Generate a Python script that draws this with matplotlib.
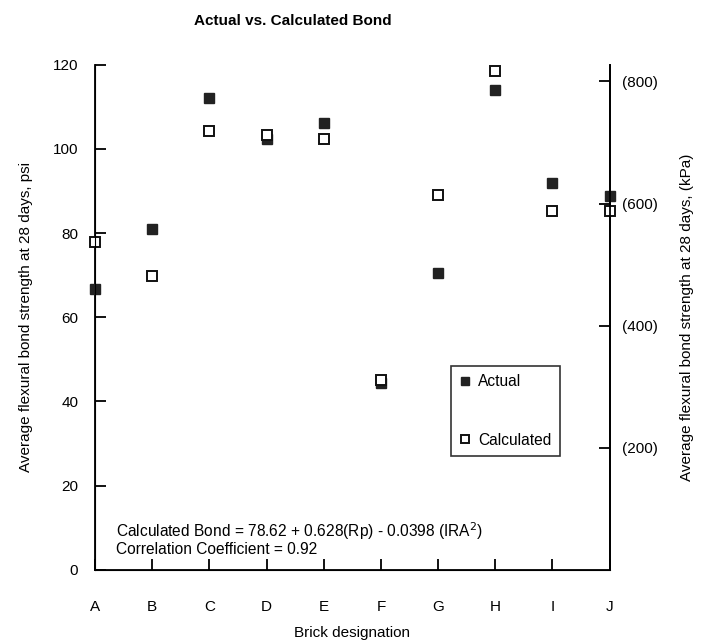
import numpy as np
import matplotlib
matplotlib.use('Agg')
import matplotlib.pyplot as plt

plt.rcParams['font.family'] = ['Liberation Sans', 'DejaVu Sans']

bricks = ['A', 'B', 'C', 'D', 'E', 'F', 'G', 'H', 'I', 'J']
actual = [66.7, 81.0, 112.0, 102.4, 106.1, 44.3, 70.5, 114.0, 91.8, 88.7]
calculated = [78.0, 69.8, 104.3, 103.3, 102.3, 45.2, 89.0, 118.5, 85.3, 85.3]
psi_ticks = [0, 20, 40, 60, 80, 100, 120]
kpa_ticks = [200, 400, 600, 800]
PSI_TO_KPA = 6.895

fig = plt.figure(figsize=(7.04, 6.41), dpi=100)
ax = fig.add_axes([0.135, 0.111, 0.731, 0.788])
x = np.arange(len(bricks))

ax.plot(x, actual, 's', ms=7, color='#222222', mec='#222222', label='Actual', clip_on=False, zorder=5)
ax.plot(x, calculated, 's', ms=7, mfc='white', mec='#111111', mew=1.4, label='Calculated', clip_on=False, zorder=5)

ax.set_xlim(0, 9)
ax.set_ylim(0, 120)
ax.set_xticks(x)
ax.set_xticklabels(bricks)
ax.set_yticks(psi_ticks)
ax.spines['top'].set_visible(False)
for s in ['left', 'bottom', 'right']:
    ax.spines[s].set_linewidth(1.3)
ax.tick_params(axis='x', direction='in', length=8, width=1.3, pad=22, labelsize=11)
ax.tick_params(axis='y', direction='in', length=8, width=1.3, pad=12, labelsize=11)

ax2 = ax.twinx()
ax2.set_ylim(np.array(ax.get_ylim()) * PSI_TO_KPA)
ax2.set_yticks(kpa_ticks)
ax2.set_yticklabels(['(%d)' % k for k in kpa_ticks])
ax2.spines['top'].set_visible(False)
ax2.spines['right'].set_linewidth(1.3)
ax2.tick_params(axis='y', direction='in', length=8, width=1.3, pad=9, labelsize=11)

ax.set_xlabel('Brick designation', fontsize=11, labelpad=8)
ax.set_ylabel('Average flexural bond strength at 28 days, psi', fontsize=11, labelpad=14)
ax2.set_ylabel('Average flexural bond strength at 28 days, (kPa)', fontsize=11, labelpad=16)

fig.text(0.416, 0.967, 'Actual vs. Calculated Bond', fontsize=11, fontweight='bold', ha='center', va='center')

ax.text(0.37, 7.4, 'Calculated Bond = 78.62 + 0.628(Rp) - 0.0398 (IRA$^2$)\nCorrelation Coefficient = 0.92',
        fontsize=11.2, ha='left', va='center', linespacing=1.0)

leg = ax.legend(loc='upper left', bbox_to_anchor=(0.691, 0.404),
                frameon=True, fancybox=False, labelspacing=2.8, handletextpad=0.4,
                handlelength=0.8, borderpad=0.55, borderaxespad=0, fontsize=11.2, markerscale=0.85)
leg.get_frame().set_edgecolor('black')
leg.get_frame().set_linewidth(1.2)

fig.savefig('out.png', dpi=100)
